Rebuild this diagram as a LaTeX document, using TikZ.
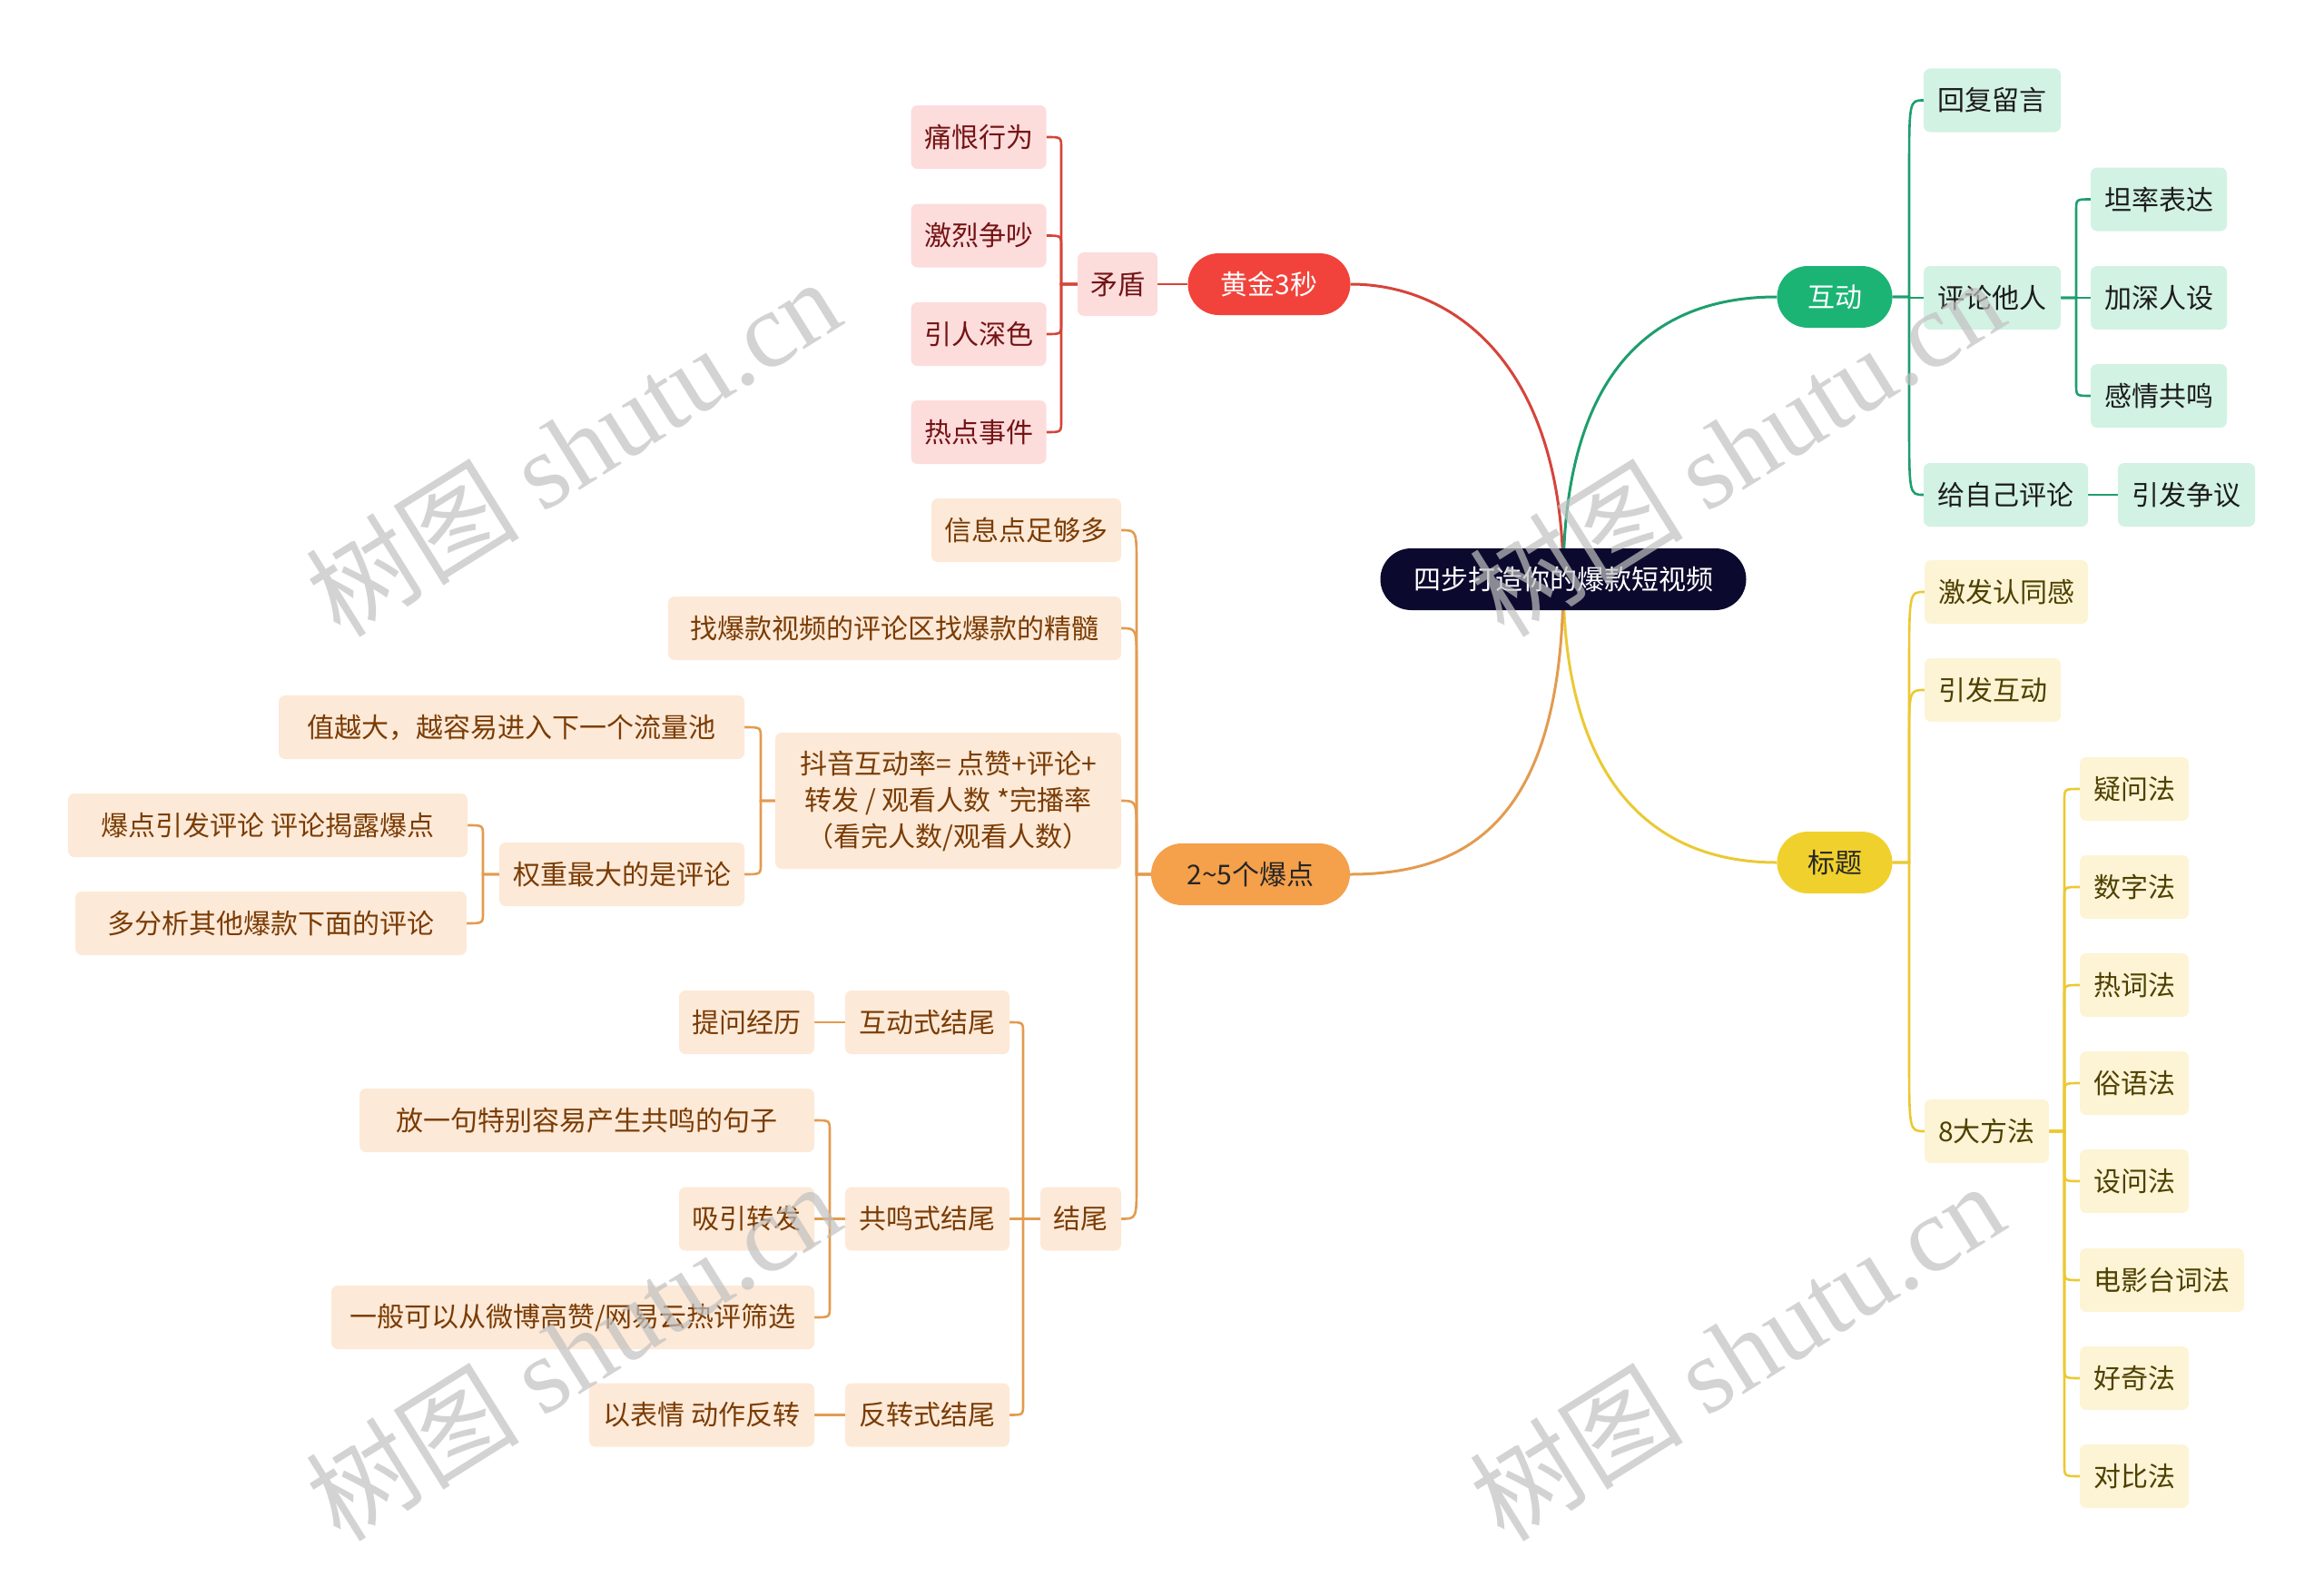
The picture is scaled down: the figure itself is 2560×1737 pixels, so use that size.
\documentclass[tikz,border=0pt]{standalone}
\usepackage{fontspec}
\setmainfont{Noto Sans CJK SC}
\newfontfamily\wmlat{Liberation Serif}
\usetikzlibrary{calc,backgrounds}
\definecolor{navy}{HTML}{0B0A2E}
\definecolor{redmain}{HTML}{F1433B}
\definecolor{redline}{HTML}{D5443A}
\definecolor{redlight}{HTML}{FDDCDC}
\definecolor{redtext}{HTML}{741313}
\definecolor{grnmain}{HTML}{1BB474}
\definecolor{grnline}{HTML}{1E9E6E}
\definecolor{grnlight}{HTML}{D2F2E3}
\definecolor{grntext}{HTML}{1C1C1C}
\definecolor{yelmain}{HTML}{F0D02C}
\definecolor{yelline}{HTML}{EBC934}
\definecolor{yellight}{HTML}{FCF4D4}
\definecolor{yeltext}{HTML}{4E4000}
\definecolor{ormain}{HTML}{F5A04B}
\definecolor{orline}{HTML}{E39B50}
\definecolor{orlight}{HTML}{FDE9D7}
\definecolor{ortext}{HTML}{7A3C05}
\definecolor{wmgray}{HTML}{C1C1C1}
\newcommand\mmconn[5]{\draw[#1] (#2) -- (#4 |- #2) -- ($(#4 |- #3)+(0,#5)$) .. controls (#4 |- #3) .. (#3);}
\begin{document}
\begin{tikzpicture}[x=1pt,y=-1pt,
  base/.style={font=\fontsize{30}{40}\selectfont, inner sep=0pt, minimum height=70pt, align=center},
  pill/.style={base, rounded corners=34pt, minimum height=68pt},
  leaf/.style={base, rounded corners=7pt},
  cnode/.style={pill, fill=navy, text=white},
  rpill/.style={pill, fill=redmain, text=white},
  gpill/.style={pill, fill=grnmain, text=white},
  ypill/.style={pill, fill=yelmain, text=black!85},
  opill/.style={pill, fill=ormain, text=black!85},
  rleaf/.style={leaf, fill=redlight, text=redtext},
  gleaf/.style={leaf, fill=grnlight, text=grntext},
  yleaf/.style={leaf, fill=yellight, text=yeltext},
  oleaf/.style={leaf, fill=orlight, text=ortext},
  rmainline/.style={draw=redline, line width=3pt},
  gmainline/.style={draw=grnline, line width=3pt},
  ymainline/.style={draw=yelline, line width=3pt},
  omainline/.style={draw=orline, line width=3pt},
  rsub/.style={draw=redline, line width=2.6pt},
  gsub/.style={draw=grnline, line width=2.6pt},
  ysub/.style={draw=yelline, line width=2.6pt},
  osub/.style={draw=orline, line width=2.6pt},
  wm/.style={text=wmgray, text opacity=0.7, inner sep=0pt, font=\fontsize{118}{122}\selectfont, anchor=south west, rotate=32}
]
\useasboundingbox (0,0) rectangle (2560,1737);

% central
\node[cnode, minimum width=403pt] (C) at (1722,638) {四步打造你的爆款短视频};

% red branch
\node[rpill, minimum width=179pt] (R0) at (1398,313) {黄金3秒};
\node[rleaf, minimum width=88pt] (R1) at (1231,313) {矛盾};
\node[rleaf, minimum width=149pt] (R11) at (1078,151) {痛恨行为};
\node[rleaf, minimum width=149pt] (R12) at (1078,259.5) {激烈争吵};
\node[rleaf, minimum width=149pt] (R13) at (1078,368) {引人深色};
\node[rleaf, minimum width=149pt] (R14) at (1078,476) {热点事件};

% green branch
\node[gpill, minimum width=127pt] (G0) at (2021,327) {互动};
\node[gleaf, minimum width=151pt] (G1) at (2194.5,110.5) {回复留言};
\node[gleaf, minimum width=151pt] (G2) at (2194.5,328) {评论他人};
\node[gleaf, minimum width=181pt] (G3) at (2209.5,545) {给自己评论};
\node[gleaf, minimum width=150pt] (G21) at (2378,219.5) {坦率表达};
\node[gleaf, minimum width=150pt] (G22) at (2378,328) {加深人设};
\node[gleaf, minimum width=150pt] (G23) at (2378,436) {感情共鸣};
\node[gleaf, minimum width=151pt] (G31) at (2408.5,545) {引发争议};

% yellow branch
\node[ypill, minimum width=127pt] (Y0) at (2021,950) {标题};
\node[yleaf, minimum width=180pt] (Y1) at (2210,652) {激发认同感};
\node[yleaf, minimum width=150pt] (Y2) at (2195,760) {引发互动};
\node[yleaf, minimum width=137pt] (Y3) at (2188.5,1246) {8大方法};
\node[yleaf, minimum width=120pt] (Y31) at (2351,869) {疑问法};
\node[yleaf, minimum width=120pt] (Y32) at (2351,977) {数字法};
\node[yleaf, minimum width=120pt] (Y33) at (2351,1085) {热词法};
\node[yleaf, minimum width=120pt] (Y34) at (2351,1193) {俗语法};
\node[yleaf, minimum width=120pt] (Y35) at (2351,1301) {设问法};
\node[yleaf, minimum width=181pt] (Y36) at (2381.5,1410) {电影台词法};
\node[yleaf, minimum width=120pt] (Y37) at (2351,1518) {好奇法};
\node[yleaf, minimum width=120pt] (Y38) at (2351,1626) {对比法};

% orange branch
\node[opill, minimum width=219pt] (O0) at (1377.5,963) {2\textasciitilde5个爆点};
\node[oleaf, minimum width=209pt] (O1) at (1130.5,584) {信息点足够多};
\node[oleaf, minimum width=499pt] (O2) at (985.5,692) {找爆款视频的评论区找爆款的精髓};
\node[oleaf, minimum width=381pt, minimum height=150pt] (O3) at (1044.5,882) {抖音互动率= 点赞+评论+\\转发 / 观看人数 *完播率\\（看完人数/观看人数）};
\node[oleaf, minimum width=513pt] (O31) at (563.5,801) {值越大，越容易进入下一个流量池};
\node[oleaf, minimum width=270pt] (O32) at (685,963) {权重最大的是评论};
\node[oleaf, minimum width=440pt] (O321) at (295,909) {爆点引发评论 评论揭露爆点};
\node[oleaf, minimum width=431pt] (O322) at (298.5,1017) {多分析其他爆款下面的评论};
\node[oleaf, minimum width=89pt] (O4) at (1190.5,1342.5) {结尾};
\node[oleaf, minimum width=181pt] (O41) at (1021.5,1126) {互动式结尾};
\node[oleaf, minimum width=181pt] (O42) at (1021.5,1342.5) {共鸣式结尾};
\node[oleaf, minimum width=181pt] (O43) at (1021.5,1558.5) {反转式结尾};
\node[oleaf, minimum width=149pt] (O411) at (822.5,1126) {提问经历};
\node[oleaf, minimum width=501pt] (O421) at (646.5,1234) {放一句特别容易产生共鸣的句子};
\node[oleaf, minimum width=149pt] (O422) at (822.5,1342.5) {吸引转发};
\node[oleaf, minimum width=532pt] (O423) at (631,1451) {一般可以从微博高赞/网易云热评筛选};
\node[oleaf, minimum width=248pt] (O431) at (773,1558.5) {以表情 动作反转};

% trunk coordinates
\coordinate (Rt) at (1169,0);
\coordinate (Gt) at (2103,0);
\coordinate (G2t) at (2287,0);
\coordinate (Yt) at (2103,0);
\coordinate (Y3t) at (2274,0);
\coordinate (Ot) at (1252,0);
\coordinate (O3t) at (838,0);
\coordinate (O32t) at (532,0);
\coordinate (O4t) at (1127,0);
\coordinate (O42t) at (914,0);

\begin{pgfonlayer}{background}
% main curves
\draw[rmainline] (C.center) .. controls (1722,400) and (1600,313) .. (R0.east);
\draw[gmainline] (C.center) .. controls (1722,410) and (1820,327) .. (G0.west);
\draw[ymainline] (C.center) .. controls (1722,860) and (1820,950) .. (Y0.west);
\draw[omainline] (C.center) .. controls (1722,900) and (1620,963) .. (O0.east);

% red
\draw[rsub] (R0.west) -- (R1.east);
\mmconn{rsub}{R1.west}{R11.east}{Rt}{12}
\mmconn{rsub}{R1.west}{R12.east}{Rt}{12}
\mmconn{rsub}{R1.west}{R13.east}{Rt}{-12}
\mmconn{rsub}{R1.west}{R14.east}{Rt}{-12}

% green
\mmconn{gsub}{G0.east}{G1.west}{Gt}{85}
\mmconn{gsub}{G0.east}{G2.west}{Gt}{0}
\mmconn{gsub}{G0.east}{G3.west}{Gt}{-85}
\mmconn{gsub}{G2.east}{G21.west}{G2t}{12}
\mmconn{gsub}{G2.east}{G22.west}{G2t}{0}
\mmconn{gsub}{G2.east}{G23.west}{G2t}{-12}
\draw[gsub] (G3.east) -- (G31.west);

% yellow
\mmconn{ysub}{Y0.east}{Y1.west}{Yt}{90}
\mmconn{ysub}{Y0.east}{Y2.west}{Yt}{60}
\mmconn{ysub}{Y0.east}{Y3.west}{Yt}{-85}
\mmconn{ysub}{Y3.east}{Y31.west}{Y3t}{12}
\mmconn{ysub}{Y3.east}{Y32.west}{Y3t}{12}
\mmconn{ysub}{Y3.east}{Y33.west}{Y3t}{12}
\mmconn{ysub}{Y3.east}{Y34.west}{Y3t}{12}
\mmconn{ysub}{Y3.east}{Y35.west}{Y3t}{-12}
\mmconn{ysub}{Y3.east}{Y36.west}{Y3t}{-12}
\mmconn{ysub}{Y3.east}{Y37.west}{Y3t}{-12}
\mmconn{ysub}{Y3.east}{Y38.west}{Y3t}{-12}

% orange
\mmconn{osub}{O0.west}{O1.east}{Ot}{40}
\mmconn{osub}{O0.west}{O2.east}{Ot}{40}
\mmconn{osub}{O0.west}{O3.east}{Ot}{40}
\mmconn{osub}{O0.west}{O4.east}{Ot}{-40}
\mmconn{osub}{O3.west}{O31.east}{O3t}{12}
\mmconn{osub}{O3.west}{O32.east}{O3t}{-12}
\mmconn{osub}{O32.west}{O321.east}{O32t}{12}
\mmconn{osub}{O32.west}{O322.east}{O32t}{-12}
\mmconn{osub}{O4.west}{O41.east}{O4t}{12}
\mmconn{osub}{O4.west}{O42.east}{O4t}{0}
\mmconn{osub}{O4.west}{O43.east}{O4t}{-12}
\draw[osub] (O41.west) -- (O411.east);
\mmconn{osub}{O42.west}{O421.east}{O42t}{12}
\mmconn{osub}{O42.west}{O422.east}{O42t}{0}
\mmconn{osub}{O42.west}{O423.east}{O42t}{-12}
\draw[osub] (O43.west) -- (O431.east);
\end{pgfonlayer}

% watermarks
\node[wm] (W1) at (380,713) {树图 {\wmlat shutu.cn}};
\node[wm] (W2) at (1662,713) {树图 {\wmlat shutu.cn}};
\node[wm] (W3) at (380,1709) {树图 {\wmlat shutu.cn}};
\node[wm] (W4) at (1662,1709) {树图 {\wmlat shutu.cn}};
\end{tikzpicture}
\end{document}
